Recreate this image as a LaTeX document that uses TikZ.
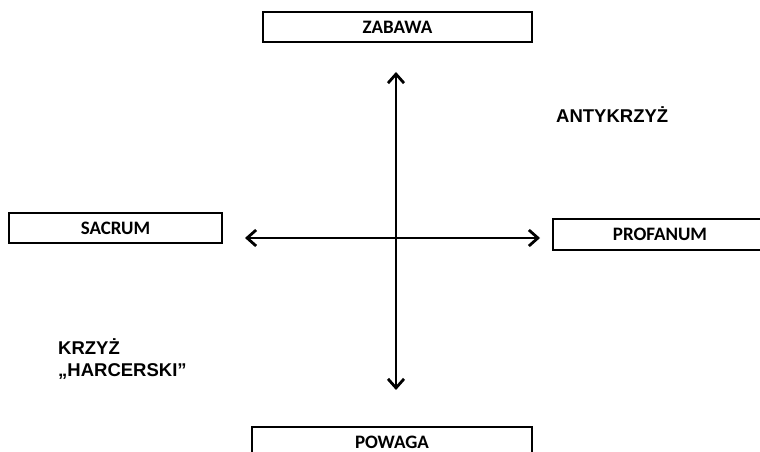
\documentclass[tikz,border=0pt]{standalone}
\usepackage{fontspec}
\setmainfont{Liberation Sans}
\newfontfamily\polefont{Carlito}
\usetikzlibrary{arrows.meta,positioning}

\tikzset{
	pole/.style = {draw, line width=1.6pt, minimum height=30pt, inner sep=0pt,
		font=\polefont\bfseries\fontsize{19}{22}\selectfont},
	axis/.style = {line width=2.8pt,
		{Straight Barb[length=9pt,width=16pt,line width=2.8pt]}-{Straight Barb[length=9pt,width=16pt,line width=2.8pt]}},
	quarter/.style = {font=\bfseries\fontsize{18.5}{22.5}\selectfont, align=left, inner sep=0pt},
}

\begin{document}
\begin{tikzpicture}[x=1pt,y=1pt]
	\useasboundingbox (0,0) rectangle (760,452);
	
	% poles
	\node [pole, minimum width=269pt] (zabawa) at (397.5,425) {ZABAWA};
	\node [pole, minimum width=213pt] (sacrum) at (115.5,224) {SACRUM};
	\node [pole, minimum width=214pt, minimum height=31pt] (profanum) at (660,217.5) {PROFANUM};
	\node [pole, minimum width=280pt] (powaga) at (392,10) {POWAGA};
	
	% axis ends
	\coordinate (top) at (396,380);
	\coordinate (bottom) at (396,62);
	\coordinate (left) at (245,214);
	\coordinate (right) at (540,214);
	
	\draw [axis] (top) -- (bottom);
	\draw [axis] (left) -- (right);
	
	% quarters
	\node [quarter, anchor=base west] (antykrzyz) at (556,329) {ANTYKRZYŻ};
	\node [quarter, anchor=base west] (krzyz) at (58,75) {KRZYŻ\\„HARCERSKI”};
	
\end{tikzpicture}
\end{document}
